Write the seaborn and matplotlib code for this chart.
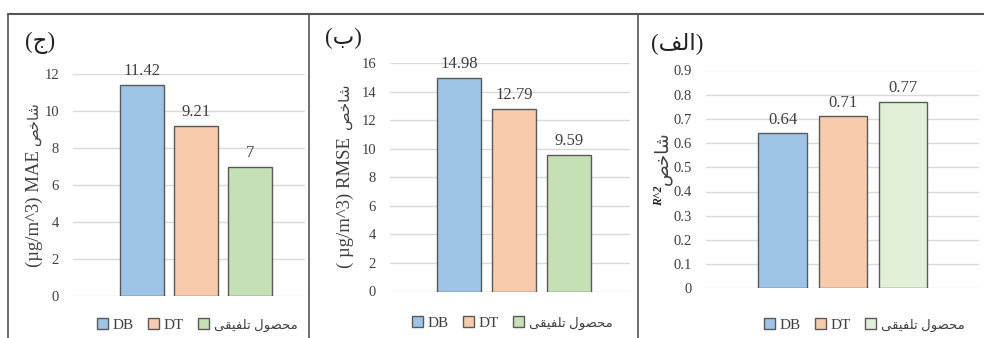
import matplotlib
matplotlib.use('Agg')
import matplotlib.pyplot as plt
import seaborn as sns
import pandas as pd
from matplotlib.patches import Patch
from matplotlib.lines import Line2D

# ---------------- data ----------------
models = ['DB', 'DT', 'محصول تلفیقی']
mae = [11.42, 9.21, 7]
rmse = [14.98, 12.79, 9.59]
r2 = [0.64, 0.71, 0.77]
mae_ticks = [0, 2, 4, 6, 8, 10, 12]
rmse_ticks = [0, 2, 4, 6, 8, 10, 12, 14, 16]
r2_ticks = [0, 0.1, 0.2, 0.3, 0.4, 0.5, 0.6, 0.7, 0.8, 0.9]
panel_titles = ['(ج)', '(ب)', '(الف)']
shakhes = 'شاخص'
ylabel_latin = ['(µg/m^3) MAE', '( µg/m^3) RMSE', 'R^2']

# Arabic shown with presentation forms (matplotlib has no text shaping / RTL)
SHAPED = {
    'محصول تلفیقی': '\uFEF0\uFED8\uFEF4\uFED4\uFEE0\uFE97 \uFEDD\uFEEE\uFEBC\uFEA4\uFEE3',
    'شاخص': '\uFEBA\uFEA7\uFE8E\uFEB7',
    '(ج)': '(\uFE9D)',
    '(ب)': '(\uFE8F)',
    '(الف)': '(\uFED2\uFEDF\uFE8D)',
}
def disp(s):
    return SHAPED.get(s, s)

W, H = 984, 338
sns.set_theme(style='white')
plt.rcParams['font.family'] = ['Liberation Serif', 'DejaVu Sans']

fig = plt.figure(figsize=(W / 100, H / 100), dpi=100)
fig.patch.set_facecolor('white')

def px_axes(x0, y0, x1, y1):
    return fig.add_axes([x0 / W, 1 - y1 / H, (x1 - x0) / W, (y1 - y0) / H])

def ftext(x, y, s, **kw):
    return fig.text(x / W, 1 - y / H, s, **kw)

tick_col = '#404040'
edge_col = '#595959'
blue, orange, green, lgreen = '#9DC3E6', '#F8CBAD', '#C5E0B4', '#E2F0D9'

panels = [
    dict(vals=mae, ticks=mae_ticks, box=(73, 74, 305, 296), xlim=(-1.28, 3.02),
         pal=[blue, orange, green], title=panel_titles[0], tpos=(40, 43),
         legc=(197, 325)),
    dict(vals=rmse, ticks=rmse_ticks, box=(390, 63, 630, 291.5), xlim=(-1.26, 3.12),
         pal=[blue, orange, green], title=panel_titles[1], tpos=(343, 38),
         legc=(512, 323)),
    dict(vals=r2, ticks=r2_ticks, box=(706, 70.5, 979, 288.3), xlim=(-1.27, 3.26),
         pal=[blue, orange, lgreen], title=panel_titles[2], tpos=(677, 43),
         legc=(864, 325)),
]

for p in panels:
    ax = px_axes(*p['box'])
    df = pd.DataFrame({'model': models, 'value': p['vals']})
    sns.barplot(data=df, x='model', y='value', hue='model', palette=p['pal'],
                edgecolor=edge_col, linewidth=1.0, width=0.8, legend=False,
                saturation=1, ax=ax)
    ax.set_xlim(*p['xlim'])
    ax.set_ylim(p['ticks'][0], p['ticks'][-1])
    ax.set_yticks(p['ticks'])
    ax.set_yticklabels(['{:g}'.format(t) for t in p['ticks']], color=tick_col, fontsize=10.5)
    ax.set_xticks([])
    ax.set_xlabel('')
    ax.set_ylabel('')
    ax.tick_params(axis='y', length=0, pad=10)
    ax.yaxis.grid(True, color='#d9d9d9', linewidth=1)
    ax.set_axisbelow(True)
    for s in ax.spines.values():
        s.set_visible(False)
    ax.patch.set_alpha(0)
    for c in ax.containers:
        ax.bar_label(c, fmt='{:g}', padding=4, fontsize=12, color=tick_col)
    # panel title
    ftext(p['tpos'][0], p['tpos'][1], disp(p['title']),
          fontsize=16.5, ha='center', va='center', color='#222222')
    # legend
    handles = [Patch(facecolor=c, edgecolor=edge_col, linewidth=1.0) for c in p['pal']]
    leg = fig.legend(handles, [disp(m) for m in models], ncol=3, frameon=False,
                     loc='center', bbox_to_anchor=(p['legc'][0] / W, 1 - p['legc'][1] / H),
                     fontsize=11, handlelength=0.75, handleheight=0.75, handletextpad=0.3,
                     columnspacing=0.9, labelcolor=tick_col)
    leg.get_texts()[2].set_fontsize(9.5)

# y-axis labels (Latin part + Persian part)
ftext(34, 209, ylabel_latin[0], rotation=90, ha='center', va='center',
      fontsize=13.5, color=tick_col)
ftext(34, 124, disp(shakhes), rotation=90, ha='center', va='center',
      fontsize=10.5, color=tick_col)
ftext(345, 203, ylabel_latin[1], rotation=90, ha='center', va='center',
      fontsize=13.5, color=tick_col)
ftext(345, 106, disp(shakhes), rotation=90, ha='center', va='center',
      fontsize=11, color=tick_col)
ftext(663, 158, disp(shakhes), rotation=90, ha='center', va='center',
      fontsize=13, color=tick_col)
ftext(659, 196, ylabel_latin[2], rotation=90, ha='center', va='center',
      fontsize=8.5, fontweight='bold', fontstyle='italic', color='#222222')

# outer frame lines
lc = '#555555'
fig.add_artist(Line2D([8 / W, 1.0], [1 - 14 / H, 1 - 14 / H], transform=fig.transFigure,
                      color=lc, linewidth=1.5))
for x in (8, 309, 638):
    fig.add_artist(Line2D([x / W, x / W], [0, 1 - 14 / H], transform=fig.transFigure,
                          color=lc, linewidth=1.2))

fig.savefig('out.png', dpi=100)
